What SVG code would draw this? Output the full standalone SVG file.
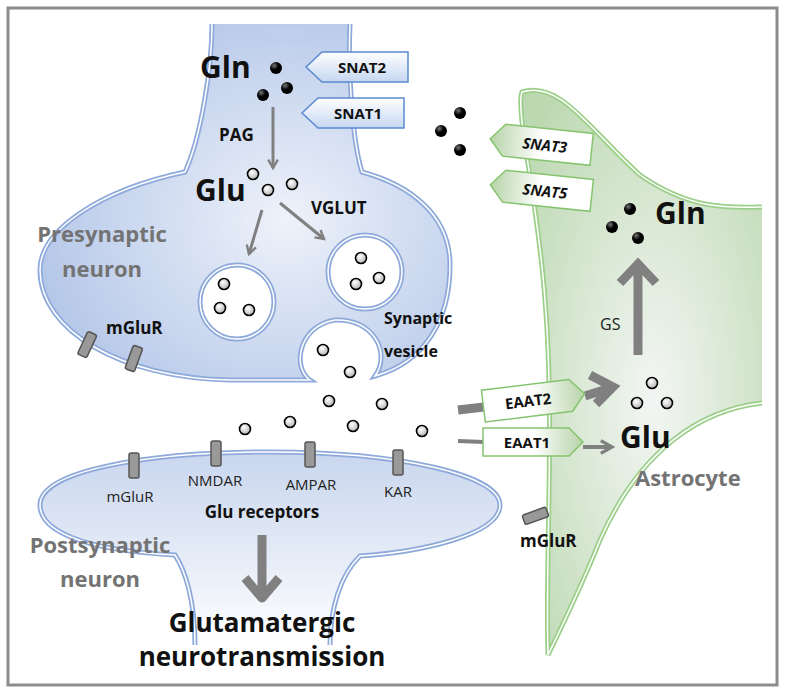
<svg xmlns="http://www.w3.org/2000/svg" width="785" height="693" viewBox="0 0 785 693">
<defs>
<radialGradient id="gPre" cx="0.6" cy="0.55" r="0.7"><stop offset="0" stop-color="#eef2fa"/><stop offset="1" stop-color="#aec2e6"/></radialGradient>
<radialGradient id="gAst" cx="0.55" cy="0.55" r="0.7"><stop offset="0" stop-color="#f3f6f4"/><stop offset="1" stop-color="#bcd8b0"/></radialGradient>
<linearGradient id="gPost" x1="0" y1="0" x2="0" y2="1"><stop offset="0" stop-color="#c9d6ee"/><stop offset="0.6" stop-color="#e8eef8"/><stop offset="1" stop-color="#ffffff"/></linearGradient>
<linearGradient id="gTagB" x1="0" y1="0" x2="0" y2="1"><stop offset="0" stop-color="#ffffff"/><stop offset="1" stop-color="#c6d7f1"/></linearGradient>
<linearGradient id="gTagG" x1="0" y1="0" x2="1" y2="0"><stop offset="0" stop-color="#b7d3a8"/><stop offset="0.5" stop-color="#ffffff"/><stop offset="1" stop-color="#ffffff"/></linearGradient>
<radialGradient id="gOpen" cx="0.4" cy="0.35" r="0.7"><stop offset="0" stop-color="#ffffff"/><stop offset="1" stop-color="#b0b0b0"/></radialGradient>
<radialGradient id="gDot" cx="0.35" cy="0.3" r="0.7"><stop offset="0" stop-color="#777"/><stop offset="0.5" stop-color="#000"/></radialGradient>
<marker id="ah" viewBox="0 0 10 10" refX="8" refY="5" markerWidth="4" markerHeight="4" orient="auto"><path d="M1,1 L8,5 L1,9" fill="none" stroke="#808080" stroke-width="2"/></marker>
</defs>
<style>
.mb{stroke:#8eaadb;stroke-width:5}
.mi{fill:none;stroke:#fff;stroke-width:1.5}
.mg{stroke:#9ccf8a;stroke-width:5}
.o{fill:url(#gOpen);stroke:#000;stroke-width:1.6}
.d{fill:url(#gDot)}
.t{font-family:"Open Sans","Liberation Sans",sans-serif;font-weight:bold;fill:#111}
.r{font-family:"Open Sans","Liberation Sans",sans-serif;fill:#222}
.gr{font-family:"Open Sans","Liberation Sans",sans-serif;font-weight:bold;fill:#737373;font-size:22px}
.rc{fill:#999;stroke:#555;stroke-width:1.5}
.ar{stroke:#808080;fill:none}
.tb{fill:url(#gTagB);stroke:#5b8bd0;stroke-width:1.5}
.tg{fill:url(#gTagG);stroke:#86c46f;stroke-width:1.5}
</style>
<rect x="0" y="0" width="785" height="693" fill="#fff"/>
<rect x="8" y="8" width="769" height="677" fill="none" stroke="#8c8c8c" stroke-width="3"/>

<g id="postsynaptic">
<path class="mb" fill="url(#gPost)" d="M195,645 C195,600 185,570 175,555 C80,550 40,530 40,505 C40,470 150,452 270,452 C400,452 500,475 500,505 C500,535 420,552 360,556 C340,575 330,610 330,645"/>
<path class="mi" d="M195,645 C195,600 185,570 175,555 C80,550 40,530 40,505 C40,470 150,452 270,452 C400,452 500,475 500,505 C500,535 420,552 360,556 C340,575 330,610 330,645"/>
<rect x="0" y="642" width="785" height="8" fill="#fff" opacity="0"/>
<rect class="rc" x="129" y="453" width="10" height="25" rx="2"/>
<rect class="rc" x="211" y="441" width="10" height="25" rx="2"/>
<rect class="rc" x="305" y="442" width="10" height="25" rx="2"/>
<rect class="rc" x="393" y="450" width="10" height="25" rx="2"/>
<text class="r" font-size="15" x="130" y="502" text-anchor="middle">mGluR</text>
<text class="r" font-size="15" x="215" y="486" text-anchor="middle">NMDAR</text>
<text class="r" font-size="15" x="311" y="490" text-anchor="middle">AMPAR</text>
<text class="r" font-size="15" x="398" y="497" text-anchor="middle">KAR</text>
<text class="t" font-size="17" x="262" y="518" text-anchor="middle">Glu receptors</text>
<text class="gr" x="100" y="553" text-anchor="middle">Postsynaptic</text>
<text class="gr" x="100" y="587" text-anchor="middle">neuron</text>
<text class="t" font-size="26" x="262" y="632" text-anchor="middle">Glutamatergic</text>
<text class="t" font-size="26" x="262" y="666" text-anchor="middle">neurotransmission</text>
</g>

<g id="presynaptic">
<path class="mb" fill="url(#gPre)" d="M212,24 C212,70 200,140 185,172 C100,190 40,230 40,270 C40,330 120,378 230,380 L310,380 C292,368 298,326 335,320 C372,318 392,352 375,376 C425,362 450,320 450,265 C450,215 410,185 362,172 C352,140 348,70 350,24"/>
<path class="mi" d="M212,24 C212,70 200,140 185,172 C100,190 40,230 40,270 C40,330 120,378 230,380 L310,380 C292,368 298,326 335,320 C372,318 392,352 375,376 C425,362 450,320 450,265 C450,215 410,185 362,172 C352,140 348,70 350,24"/>
<circle class="mb" cx="237" cy="302" r="37" fill="#fff"/><circle class="mi" cx="237" cy="302" r="37"/>
<circle class="mb" cx="365" cy="272" r="37" fill="#fff"/><circle class="mi" cx="365" cy="272" r="37"/>
<text class="gr" x="102" y="242" text-anchor="middle">Presynaptic</text>
<text class="gr" x="102" y="277" text-anchor="middle">neuron</text>
<rect class="rc" x="82" y="332" width="10" height="25" rx="2" transform="rotate(25 87 345)"/>
<rect class="rc" x="129" y="346" width="10" height="25" rx="2" transform="rotate(20 134 358)"/>
<text class="t" font-size="17" x="106" y="334">mGluR</text>
<text class="t" font-size="30" x="200" y="78">Gln</text>
<text class="t" font-size="17" x="219" y="141">PAG</text>
<text class="t" font-size="30" x="195" y="201">Glu</text>
<text class="t" font-size="17" x="311" y="214">VGLUT</text>
<text class="t" font-size="16" x="384" y="324">Synaptic</text>
<text class="t" font-size="16" x="384" y="357">vesicle</text>
</g>

<g id="astrocyte">
<path class="mg" fill="url(#gAst)" d="M762,207 C730,208 690,210 640,175 C590,130 560,80 522,92 C515,110 538,200 545,300 C555,420 545,560 548,655 C560,630 580,590 600,540 C640,450 700,410 762,403"/>
<path class="mi" d="M762,207 C730,208 690,210 640,175 C590,130 560,80 522,92 C515,110 538,200 545,300 C555,420 545,560 548,655 C560,630 580,590 600,540 C640,450 700,410 762,403"/>
<text class="t" font-size="30" x="655" y="224">Gln</text>
<text class="r" font-size="16" x="600" y="330">GS</text>
<text class="t" font-size="30" x="620" y="448">Glu</text>
<text class="gr" x="635" y="486">Astrocyte</text>
<rect class="rc" x="530" y="503" width="10" height="25" rx="2" transform="rotate(70 535 516)"/>
<text class="t" font-size="17" x="520" y="547">mGluR</text>
</g>

<g id="connectors">
<line class="ar" stroke-width="3" x1="273" y1="107" x2="273" y2="168" marker-end="url(#ah)"/>
<line class="ar" stroke-width="3" x1="262" y1="210" x2="249" y2="254" marker-end="url(#ah)"/>
<line class="ar" stroke-width="3" x1="280" y1="203" x2="324" y2="239" marker-end="url(#ah)"/>
<line class="ar" stroke-width="9" x1="262" y1="535" x2="262" y2="595"/>
<path d="M245,578 L262,598 L279,578" class="ar" stroke-width="9" stroke-linejoin="round"/>
<line class="ar" stroke-width="9" x1="638" y1="355" x2="638" y2="268"/>
<path d="M620,283 L638,264 L656,283" class="ar" stroke-width="9"/>
<line class="ar" stroke-width="9" x1="458" y1="410" x2="484" y2="407"/>
<line class="ar" stroke-width="9" x1="585" y1="396" x2="610" y2="388"/>
<path d="M590,375 L613,387 L596,404" class="ar" stroke-width="9"/>
<line class="ar" stroke-width="4" x1="458" y1="441" x2="484" y2="442"/>
<line class="ar" stroke-width="4" x1="583" y1="447" x2="612" y2="447" marker-end="url(#ah)"/>
</g>

<g id="transporters">
<g id="SNAT2"><path class="tb" d="M408,52 L408,82 L322,82 L306,67 L322,52 Z"/><text class="t" font-size="15" x="362" y="73" text-anchor="middle">SNAT2</text></g>
<g id="SNAT1"><path class="tb" d="M404,98 L404,128 L318,128 L302,113 L318,98 Z"/><text class="t" font-size="15" x="358" y="119" text-anchor="middle">SNAT1</text></g>
<g id="SNAT3" transform="rotate(6 540 143)"><path class="tg" d="M592,128 L592,160 L504,160 L490,144 L504,128 Z"/><text class="t" font-size="15" x="545" y="150" text-anchor="middle" font-style="italic">SNAT3</text></g>
<g id="SNAT5" transform="rotate(6 540 190)"><path class="tg" d="M592,174 L592,206 L504,206 L490,190 L504,174 Z"/><text class="t" font-size="15" x="545" y="196" text-anchor="middle" font-style="italic">SNAT5</text></g>
<g id="EAAT2" transform="rotate(-7 533 400)"><path class="tg" style="fill:url(#gTagG)" transform="translate(1068,0) scale(-1,1)" d="M585,384 L585,416 L497,416 L483,400 L497,384 Z"/><text class="t" font-size="15" x="528" y="406" text-anchor="middle">EAAT2</text></g>
<g id="EAAT1"><path class="tg" transform="translate(1066,0) scale(-1,1)" d="M583,428 L583,456 L497,456 L483,442 L497,428 Z"/><text class="t" font-size="15" x="527" y="448" text-anchor="middle">EAAT1</text></g>
</g>

<g id="molecules">
<circle class="d" cx="276" cy="68" r="6"/><circle class="d" cx="263" cy="95" r="6"/><circle class="d" cx="287" cy="88" r="6"/>
<circle class="d" cx="460" cy="113" r="6"/><circle class="d" cx="441" cy="131" r="6"/><circle class="d" cx="460" cy="150" r="6"/>
<circle class="d" cx="630" cy="209" r="6"/><circle class="d" cx="612" cy="227" r="6"/><circle class="d" cx="638" cy="238" r="6"/>
<circle class="o" cx="253" cy="174" r="5.5"/><circle class="o" cx="268" cy="190" r="5.5"/><circle class="o" cx="292" cy="184" r="5.5"/>
<circle class="o" cx="224" cy="284" r="5.5"/><circle class="o" cx="220" cy="308" r="5.5"/><circle class="o" cx="249" cy="310" r="5.5"/>
<circle class="o" cx="361" cy="258" r="5.5"/><circle class="o" cx="356" cy="284" r="5.5"/><circle class="o" cx="379" cy="278" r="5.5"/>
<circle class="o" cx="323" cy="350" r="5.5"/><circle class="o" cx="350" cy="372" r="5.5"/><circle class="o" cx="329" cy="401" r="5.5"/>
<circle class="o" cx="382" cy="404" r="5.5"/><circle class="o" cx="290" cy="422" r="5.5"/><circle class="o" cx="245" cy="429" r="5.5"/>
<circle class="o" cx="353" cy="426" r="5.5"/><circle class="o" cx="422" cy="431" r="5.5"/>
<circle class="o" cx="652" cy="383" r="5.5"/><circle class="o" cx="637" cy="403" r="5.5"/><circle class="o" cx="667" cy="403" r="5.5"/>
</g>
</svg>
